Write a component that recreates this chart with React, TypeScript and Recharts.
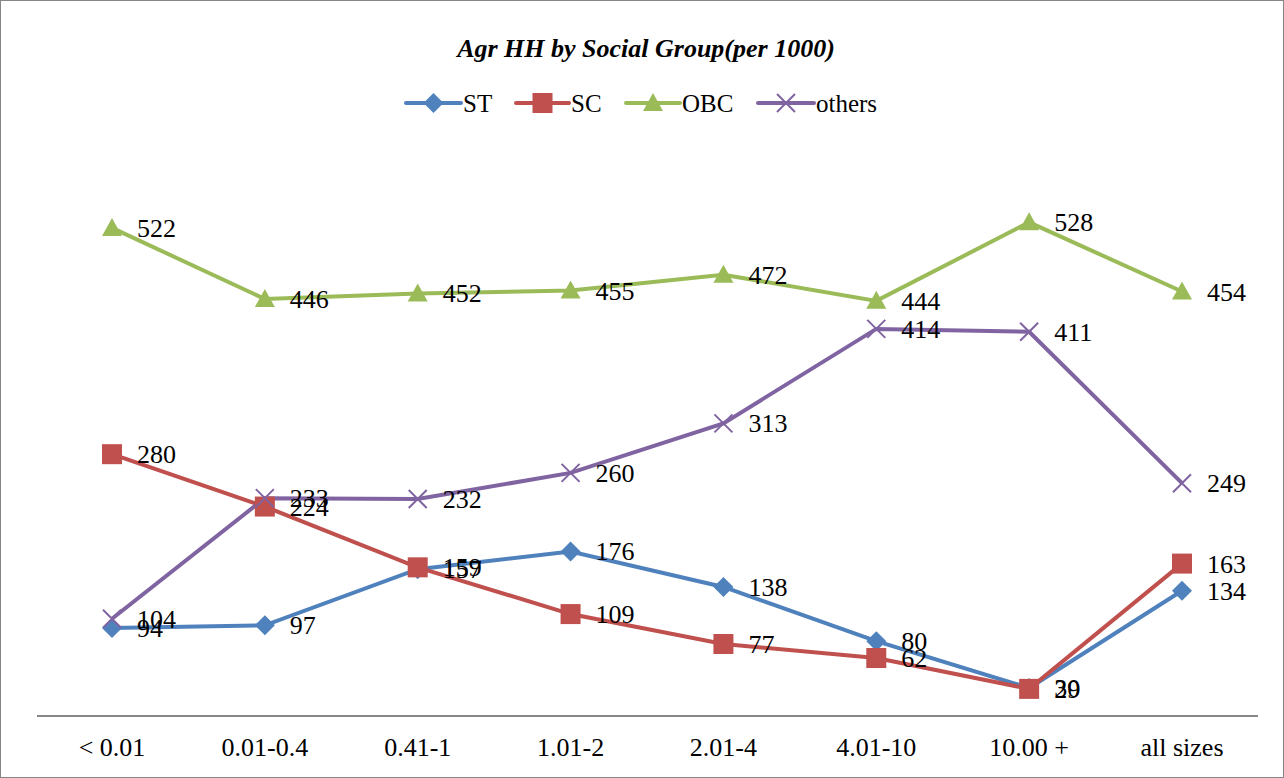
import React from "react";
import { LineChart, Line, XAxis, YAxis, LabelList } from "recharts";

const categories = ["< 0.01", "0.01-0.4", "0.41-1", "1.01-2", "2.01-4", "4.01-10", "10.00 +", "all sizes"];
const st = [94, 97, 157, 176, 138, 80, 30, 134];
const sc = [280, 224, 159, 109, 77, 62, 29, 163];
const obc = [522, 446, 452, 455, 472, 444, 528, 454];
const others = [104, 233, 232, 260, 313, 414, 411, 249];

const data = categories.map((name, i) => ({
  name,
  ST: st[i],
  SC: sc[i],
  OBC: obc[i],
  others: others[i],
}));

const FONT = "'Liberation Serif', 'Times New Roman', serif";

const colors = {
  ST: "#4F81BD",
  SC: "#C0504D",
  OBC: "#9BBB59",
  others: "#8064A2",
};

type Shape = "diamond" | "square" | "triangle" | "cross";

function marker(shape: Shape, cx: number, cy: number, color: string, key?: string) {
  if (shape === "diamond") {
    const r = 10;
    return <path key={key} d={`M${cx},${cy - r}L${cx + r},${cy}L${cx},${cy + r}L${cx - r},${cy}Z`} fill={color} />;
  }
  if (shape === "square") {
    return <rect key={key} x={cx - 10} y={cy - 10} width={20} height={20} fill={color} />;
  }
  if (shape === "triangle") {
    return <path key={key} d={`M${cx},${cy - 10}L${cx + 10},${cy + 8}L${cx - 10},${cy + 8}Z`} fill={color} />;
  }
  const r = 9;
  return (
    <path
      key={key}
      d={`M${cx - r},${cy - r}L${cx + r},${cy + r}M${cx - r},${cy + r}L${cx + r},${cy - r}`}
      stroke={color}
      strokeWidth={2}
      fill="none"
    />
  );
}

const makeDot = (shape: Shape, color: string) => (props: any) => {
  const { cx, cy, index } = props;
  if (cx == null || cy == null) return <g key={index} />;
  return <g key={index}>{marker(shape, cx, cy, color)}</g>;
};

const renderLabel = (props: any) => {
  const { x, y, value, index } = props;
  return (
    <text key={index} x={x + 25} y={y} dy={9} fontFamily={FONT} fontSize={26} fill="#000">
      {value}
    </text>
  );
};

const series: { key: keyof typeof colors; shape: Shape }[] = [
  { key: "ST", shape: "diamond" },
  { key: "SC", shape: "square" },
  { key: "OBC", shape: "triangle" },
  { key: "others", shape: "cross" },
];

const legendItems = [
  { key: "ST", shape: "diamond" as Shape, x: 405, w: 55 },
  { key: "SC", shape: "square" as Shape, x: 515, w: 53 },
  { key: "OBC", shape: "triangle" as Shape, x: 625, w: 54 },
  { key: "others", shape: "cross" as Shape, x: 757, w: 56 },
];

export default function App() {
  return (
    <div
      style={{
        position: "fixed",
        left: 0,
        top: 0,
        width: 1284,
        height: 778,
        background: "#fff",
        boxSizing: "border-box",
        border: "1px solid #868686",
      }}
    >
      <LineChart width={1282} height={776} data={data} margin={{ top: 154, right: 25, bottom: 0, left: 36 }}>
        <text x={645} y={56} textAnchor="middle" fontFamily={FONT} fontSize={26} fontWeight="bold" fontStyle="italic">
          Agr HH by Social Group(per 1000)
        </text>
        {legendItems.map((it) => {
          const color = colors[it.key as keyof typeof colors];
          return (
            <g key={it.key}>
              <line x1={it.x} y1={102} x2={it.x + it.w} y2={102} stroke={color} strokeWidth={4} strokeLinecap="round" />
              {marker(it.shape, it.x + it.w / 2, 102, color)}
              <text x={it.x + it.w + 2} y={111} fontFamily={FONT} fontSize={25} fill="#000">
                {it.key}
              </text>
            </g>
          );
        })}
        <XAxis
          dataKey="name"
          height={61}
          padding={{ left: 75, right: 76 }}
          tickLine={false}
          axisLine={{ stroke: "#878787", strokeWidth: 2 }}
          tick={{ fontFamily: FONT, fontSize: 26, fill: "#000" }}
          dy={14}
          interval={0}
        />
        <YAxis hide domain={[0, 600]} />
        {series.map((s) => (
          <Line
            key={s.key}
            dataKey={s.key}
            stroke={colors[s.key]}
            strokeWidth={4}
            isAnimationActive={false}
            dot={makeDot(s.shape, colors[s.key])}
            activeDot={false}
            type="linear"
          >
            <LabelList dataKey={s.key} content={renderLabel} />
          </Line>
        ))}
      </LineChart>
    </div>
  );
}
